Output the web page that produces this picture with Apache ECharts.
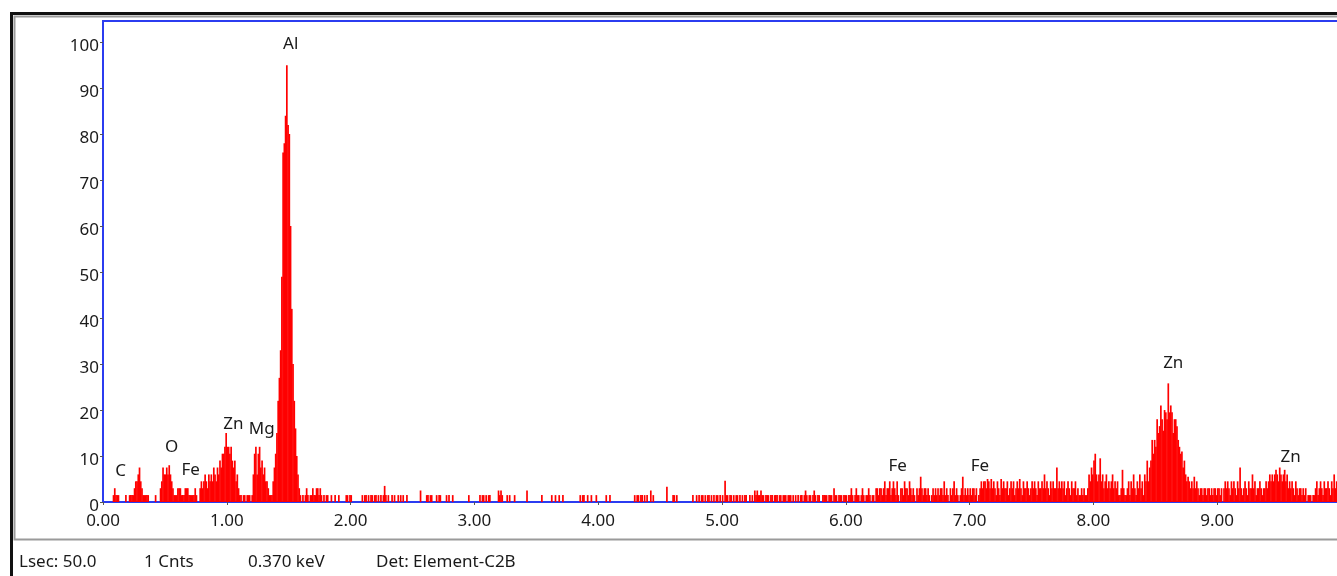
<!DOCTYPE html>
<html>
<head>
<meta charset="utf-8">
<title>EDS spectrum</title>
<script src="https://cdn.jsdelivr.net/npm/echarts@6/dist/echarts.min.js"></script>
<style>
  html, body { margin: 0; padding: 0; background: #fff; overflow: hidden; }
  /* a bit wider than the window: the right end of the plot is cut off like the original */
  #chart { width: 1350px; height: 576px; }
</style>
</head>
<body>
<div id="chart"></div>
<script>
// width of one detector channel, keV
const channelWidth = 0.01

// counts per channel, 0.00 - 9.99 keV, 10 channels per line
const counts = [
  0,0,0,0,0,0,0,0,1.5,3,
  1.5,1.5,1.5,0,0,0,0,0,1.5,0,
  0,1.5,1.5,1.5,1.5,3,4.5,4.5,6,7.5,
  4.5,3,1.5,1.5,1.5,1.5,1.5,0,0,0,
  0,0,1.5,0,0,0,3,4.5,7.5,6,
  // 0.50
  6,7.5,6,8,6,4.5,3,1.5,1.5,1.5,
  3,3,3,1.5,1.5,1.5,3,3,3,1.5,
  1.5,1.5,1.5,1.5,3,1.5,0,0,3,4.5,
  3,4.5,6,4.5,3,6,4.5,6,4.5,7.5,
  6,4.5,7.5,6,9,7.5,10.5,10.5,12,15,
  // 1.00
  12,12,10.5,12,9,7.5,9,4.5,6,3,
  1.5,1.5,0,1.5,1.5,0,1.5,1.5,1.5,0,
  1.5,6,10.5,12,6,10.5,12,7.5,9,6,
  7.5,4.5,4.5,3,1.5,1.5,1.5,4.5,7.5,10.5,
  15,22,27,33,49,76,78,84,95,82,
  // 1.50
  80,60,42,30,22,16,10,6,3,1.5,
  0,1.5,0,1.5,3,1.5,0,1.5,1.5,3,
  1.5,1.5,3,3,1.5,3,1.5,0,1.5,0,
  1.5,1.5,0,0,1.5,0,0,1.5,0,0,
  1.5,0,0,0,0,0,1.5,1.5,0,1.5,
  // 2.00
  1.5,0,0,0,0,0,0,0,0,1.5,
  0,1.5,1.5,0,1.5,0,1.5,1.5,0,1.5,
  1.5,0,1.5,0,1.5,0,1.5,3.5,1.5,0,
  1.5,0,0,1.5,0,1.5,0,0,1.5,0,
  1.5,0,1.5,0,0,1.5,0,0,0,0,
  // 2.50
  0,0,0,0,0,0,2.5,0,0,0,
  0,1.5,1.5,0,1.5,1.5,0,0,0,1.5,
  0,1.5,1.5,0,0,0,0,1.5,0,1.5,
  0,0,1.5,0,0,0,0,0,0,0,
  0,0,0,0,0,1.5,0,0,0,0,
  // 3.00
  0,0,0,0,1.5,0,1.5,1.5,0,1.5,
  0,1.5,1.5,0,0,0,0,0,0,2.5,
  1.5,2.5,1.5,0,0,0,1.5,0,1.5,0,
  0,0,1.5,0,0,0,0,0,0,0,
  0,0,2.5,0,0,0,0,0,0,0,
  // 3.50
  0,0,0,0,1.5,0,0,0,0,0,
  0,0,1.5,0,0,1.5,0,0,1.5,0,
  0,1.5,0,0,0,0,0,0,0,0,
  0,0,0,0,0,1.5,0,1.5,1.5,0,
  0,1.5,0,0,1.5,0,0,0,1.5,0,
  // 4.00
  0,0,0,0,0,0,1.5,0,0,1.5,
  0,0,0,0,0,0,0,0,0,0,
  0,0,0,0,0,0,0,0,0,1.5,
  0,1.5,1.5,0,1.5,1.5,0,1.5,0,1.5,
  0,0,2.5,0,1.5,0,0,0,0,0,
  // 4.50
  0,0,0,0,0,3.3,0,0,0,0,
  1.5,1.5,0,1.5,0,0,0,0,0,0,
  0,0,0,0,0,0,1.5,0,0,1.5,
  0,1.5,0,1.5,1.5,0,1.5,0,1.5,1.5,
  0,1.5,0,1.5,0,1.5,1.5,0,1.5,0,
  // 5.00
  1.5,0,4.6,1.5,1.5,0,1.5,1.5,0,1.5,
  0,1.5,1.5,0,1.5,0,1.5,0,1.5,1.5,
  0,0,1.5,0,1.5,0,2.5,1.5,2.5,1.5,
  1.5,2.5,1.5,1.5,0,1.5,1.5,1.5,0,1.5,
  1.5,0,1.5,1.5,1.5,0,1.5,1.5,0,1.5,
  // 5.50
  1.5,1.5,0,1.5,1.5,1.5,0,1.5,0,1.5,
  0,1.5,0,1.5,1.5,0,1.5,2.5,1.5,0,
  1.5,1.5,0,1.5,2.5,1.5,0,1.5,1.5,0,
  0,1.5,1.5,1.5,1.5,0,1.5,1.5,1.5,0,
  3,1.5,1.5,0,1.5,1.5,1.5,0,1.5,1.5,
  // 6.00
  1.5,0,1.5,1.5,3,1.5,0,1.5,3,1.5,
  1.5,0,1.5,3,1.5,0,1.5,1.5,3,1.5,
  0,1.5,1.5,0,3,3,1.5,3,3,1.5,
  3,4.5,1.5,3,3,4.5,1.5,3,4.5,3,
  1.5,4.5,1.5,0,3,3,1.5,4.5,3,3,
  // 6.50
  1.5,4.5,3,1.5,3,1.5,0,3,1.5,3,
  5.5,3,1.5,3,3,1.5,3,1.5,0,1.5,
  3,1.5,3,1.5,3,1.5,3,3,1.5,4.5,
  1.5,3,1.5,0,3,1.5,3,4.5,1.5,3,
  1.5,0,1.5,3,5.5,1.5,3,1.5,3,1.5,
  // 7.00
  3,1.5,3,3,1.5,3,0,1.5,3,4.5,
  3,4.5,4.5,3,5,4.5,3,5,3,4.5,
  3,1.5,4.5,3,1.5,5,3,4.5,3,3,
  4.5,1.5,3,4.5,3,4.5,1.5,3,4.5,3,
  5,3,1.5,4.5,3,3,4.5,3,1.5,3,
  // 7.50
  4.5,3,4.5,3,1.5,4.5,3,3,4.5,3,
  6,3,4.5,3,1.5,4.5,3,4.5,3,3,
  7.5,3,4.5,3,4.5,3,4.5,1.5,3,4.5,
  3,1.5,4.5,3,3,4.5,1.5,3,1.5,1.5,
  3,1.5,3,1.5,1.5,3,6,4.5,7.5,6,
  // 8.00
  9,10.5,6,4.5,6,9.5,4.5,6,3,4.5,
  6,3,4.5,3,4.5,6,3,4.5,3,4.5,
  1.5,1.5,3,7,3,1.5,1.5,3,4.5,1.5,
  4.5,3,6,3,1.5,4.5,3,6,3,4.5,
  1.5,6,4.5,9,4.5,7.5,9,13.5,10.5,13.5,
  // 8.50
  12,18,15,16.5,21,18,15.5,20,19.5,18,
  25.8,19.5,21,19.5,15,18,18,16.5,13.5,12,
  10.5,11,7.5,9,6,4.5,5.5,4.5,3,4.5,
  3,5.5,3,4.5,3,1.5,3,3,1.5,3,
  3,1.5,3,3,1.5,3,1.5,3,3,1.5,
  // 9.00
  3,3,1.5,3,0,3,4.5,3,4.5,3,
  1.5,4.5,3,4.5,3,1.5,4.5,3,7.5,3,
  1.5,3,4.5,3,1.5,4.5,3,3,6,3,
  4.5,1.5,3,3,4.5,3,1.5,3,3,4.5,
  3,4.5,6,4.5,6,4.5,6,7,6,4.5,
  // 9.50
  7.5,6,4.5,6,7,4.5,6,3,4.5,3,
  4.5,3,1.5,4.5,3,1.5,3,3,1.5,3,
  1.5,3,0,1.5,1.5,1.5,0,1.5,1.5,3,
  4.5,1.5,3,4.5,3,1.5,4.5,3,3,4.5,
  3,1.5,4.5,3,6,3,4.5,3,1.5,3
]

// element labels (energy keV, height in counts where the label sits)
const peakNames = ['C', 'O', 'Fe', 'Zn', 'Mg', 'Al', 'Fe', 'Fe', 'Zn', 'Zn']
const peakEnergy = [0.143, 0.555, 0.708, 1.053, 1.282, 1.516, 6.419, 7.084, 8.645, 9.594]
const peakLabelY = [6.6, 12.0, 7.0, 16.9, 15.8, 99.5, 7.9, 7.9, 30.2, 9.85]

const statusTexts = ['Lsec: 50.0', '1 Cnts', '0.370 keV', 'Det: Element-C2B']

const FONT = '"Noto Sans", "DejaVu Sans", sans-serif'
const TXT = '#1a1a1a'

const chart = echarts.init(document.getElementById('chart'))

const spectrum = counts.map((c, i) => [(i + 0.5) * channelWidth, c])
const peaks = peakNames.map((n, i) => ({ name: n, value: [peakEnergy[i], peakLabelY[i]] }))
const statusX = [19, 144, 248, 376]

const option = {
  animation: false,
  backgroundColor: '#fff',
  textStyle: { fontFamily: FONT },
  grid: {
    left: 103,
    top: 21,
    width: 1238,
    height: 481,
    show: true,
    borderColor: '#2b3cf0',
    borderWidth: 2,
    backgroundColor: 'transparent'
  },
  xAxis: {
    type: 'value',
    min: 0,
    max: 10,
    interval: 1,
    axisLine: { show: false },
    axisTick: { show: true, length: 3, lineStyle: { color: '#555' } },
    splitLine: { show: false },
    axisLabel: {
      formatter: v => v.toFixed(2),
      fontSize: 17,
      color: TXT,
      margin: 11,
      showMaxLabel: false
    }
  },
  yAxis: {
    type: 'value',
    min: 0,
    max: 104.6,
    interval: 10,
    axisLine: { show: false },
    axisTick: { show: true, length: 3, lineStyle: { color: '#555' } },
    splitLine: { show: false },
    axisLabel: {
      fontSize: 17,
      color: TXT,
      margin: 4,
      // labels sit a few px under their tick, as in the original
      verticalAlign: 'top',
      lineHeight: 9,
      showMaxLabel: false
    }
  },
  series: [
    {
      type: 'bar',
      data: spectrum,
      barWidth: 1.7,
      itemStyle: { color: '#ff0000' },
      silent: true
    },
    {
      type: 'scatter',
      data: peaks,
      symbolSize: 1,
      itemStyle: { color: 'rgba(0,0,0,0)', opacity: 1 },
      silent: true,
      label: {
        show: true,
        position: 'inside',
        formatter: '{b}',
        fontSize: 17,
        color: TXT,
        opacity: 1
      }
    }
  ],
  graphic: [
    {
      type: 'rect',
      silent: true,
      shape: { x: 11.5, y: 13.5, width: 1400, height: 700 },
      style: { fill: 'none', stroke: '#111', lineWidth: 3 }
    },
    {
      type: 'rect',
      silent: true,
      shape: { x: 14.5, y: 16.5, width: 1400, height: 523 },
      style: { fill: 'none', stroke: '#9a9a9a', lineWidth: 2 }
    },
    ...statusTexts.map((t, i) => ({
      type: 'text',
      silent: true,
      style: {
        text: t,
        x: statusX[i],
        y: 562,
        font: '17px ' + FONT,
        fill: TXT,
        verticalAlign: 'middle'
      }
    }))
  ]
}

chart.setOption(option)
</script>
</body>
</html>
